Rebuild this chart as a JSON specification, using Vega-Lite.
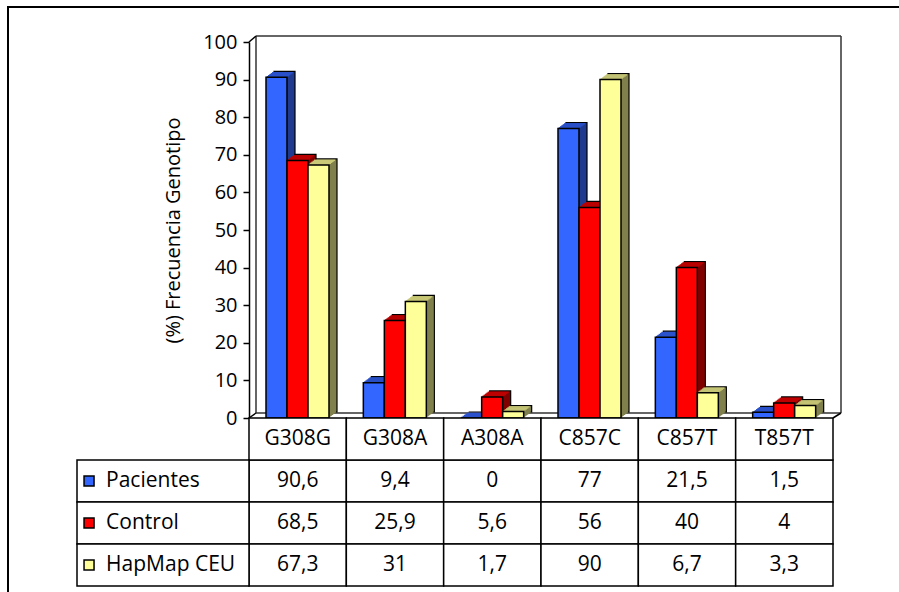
{
  "$schema": "https://vega.github.io/schema/vega-lite/v6.json",
  "width": 900,
  "height": 600,
  "autosize": {"type": "none"},
  "padding": {"left": 8, "top": 7, "right": 0, "bottom": 0},
  "background": "white",
  "config": {
    "font": "Open Sans",
    "view": {"stroke": "black", "strokeWidth": 2},
    "locale": {"number": {"decimal": ",", "thousands": ".", "grouping": [3], "currency": ["", " €"]}}
  },
  "datasets": {
    "d": [
      {"genotype": "G308G", "series": "Pacientes", "value": 90.6},
      {"genotype": "G308G", "series": "Control", "value": 68.5},
      {"genotype": "G308G", "series": "HapMap CEU", "value": 67.3},
      {"genotype": "G308A", "series": "Pacientes", "value": 9.4},
      {"genotype": "G308A", "series": "Control", "value": 25.9},
      {"genotype": "G308A", "series": "HapMap CEU", "value": 31},
      {"genotype": "A308A", "series": "Pacientes", "value": 0},
      {"genotype": "A308A", "series": "Control", "value": 5.6},
      {"genotype": "A308A", "series": "HapMap CEU", "value": 1.7},
      {"genotype": "C857C", "series": "Pacientes", "value": 77},
      {"genotype": "C857C", "series": "Control", "value": 56},
      {"genotype": "C857C", "series": "HapMap CEU", "value": 90},
      {"genotype": "C857T", "series": "Pacientes", "value": 21.5},
      {"genotype": "C857T", "series": "Control", "value": 40},
      {"genotype": "C857T", "series": "HapMap CEU", "value": 6.7},
      {"genotype": "T857T", "series": "Pacientes", "value": 1.5},
      {"genotype": "T857T", "series": "Control", "value": 4},
      {"genotype": "T857T", "series": "HapMap CEU", "value": 3.3}
    ]
  },
  "resolve": {"scale": {"x": "independent", "y": "independent"}, "axis": {"x": "independent", "y": "independent"}},
  "layer": [
    {
      "data": {"name": "d"},
      "mark": {"type": "point", "opacity": 0},
      "encoding": {
        "y": {"field": "value", "type": "quantitative",
              "scale": {"domain": [0, 100], "range": [411, 35], "nice": false, "zero": true},
              "axis": {"title": "(%) Frecuencia Genotipo", "orient": "left", "values": [0,10,20,30,40,50,60,70,80,90,100], "offset": -241,
                       "grid": false, "domainColor": "black", "domainWidth": 1.5, "tickColor": "black", "tickSize": 6, "tickWidth": 1.5,
                       "labelFont": "Open Sans", "labelFontSize": 20, "labelColor": "black", "labelPadding": 6,
                       "titleFont": "Open Sans", "titleFontSize": 20, "titleFontWeight": "normal", "titleColor": "black", "titlePadding": 19}}
      }
    },
    {
      "data": {"name": "d"},
      "encoding": {
        "x": {"field": "genotype", "type": "nominal", "sort": ["G308G","G308A","A308A","C857C","C857T","T857T"],
              "scale": {"domain": ["G308G","G308A","A308A","C857C","C857T","T857T"], "range": [241, 825], "paddingInner": 0, "paddingOuter": 0}, "axis": null},
        "y": {"field": "value", "type": "quantitative",
              "scale": {"domain": [0, 100], "range": [411, 35], "nice": false, "zero": true}, "axis": null}
      },
      "resolve": {"scale": {"xOffset": "independent"}},
      "layer": [
        {"transform": [{"filter": "datum.genotype === 'G308G' && datum.series === 'Pacientes'"}],
         "mark": {"type": "rule", "color": "#333333", "strokeWidth": 1.5, "xOffset": 7, "x2Offset": 8, "yOffset": -6},
         "encoding": {"x": {"datum": "G308G", "type": "nominal", "bandPosition": 0, "axis": null}, "x2": {"datum": "T857T", "bandPosition": 1}, "y": {"datum": 100, "type": "quantitative", "axis": null}}},
        {"transform": [{"filter": "datum.genotype === 'G308G' && datum.series === 'Pacientes'"}],
         "mark": {"type": "rule", "color": "#333333", "strokeWidth": 1.5, "xOffset": 7, "x2Offset": 8, "yOffset": -5},
         "encoding": {"x": {"datum": "G308G", "type": "nominal", "bandPosition": 0, "axis": null}, "x2": {"datum": "T857T", "bandPosition": 1}, "y": {"datum": 0, "type": "quantitative", "axis": null}}},
        {"transform": [{"filter": "datum.genotype === 'G308G' && datum.series === 'Pacientes'"}],
         "mark": {"type": "rule", "color": "#333333", "strokeWidth": 1.5, "xOffset": 7, "yOffset": -6, "y2Offset": -5},
         "encoding": {"x": {"datum": "G308G", "type": "nominal", "bandPosition": 0, "axis": null}, "y": {"datum": 100, "type": "quantitative", "axis": null}, "y2": {"datum": 0}}},
        {"transform": [{"filter": "datum.genotype === 'G308G' && datum.series === 'Pacientes'"}],
         "mark": {"type": "rule", "color": "#333333", "strokeWidth": 1.5, "xOffset": 8, "yOffset": -6, "y2Offset": -5},
         "encoding": {"x": {"datum": "T857T", "type": "nominal", "bandPosition": 1, "axis": null}, "y": {"datum": 100, "type": "quantitative", "axis": null}, "y2": {"datum": 0}}},
        {"transform": [{"filter": "datum.genotype === 'G308G' && datum.series === 'Pacientes'"}],
         "mark": {"type": "rule", "color": "black", "strokeWidth": 1.5, "x2Offset": 7, "y2Offset": -6},
         "encoding": {"x": {"datum": "G308G", "type": "nominal", "bandPosition": 0, "axis": null}, "x2": {"datum": "G308G", "bandPosition": 0}, "y": {"datum": 100, "type": "quantitative", "axis": null}, "y2": {"datum": 100}}},
        {"transform": [{"filter": "datum.genotype === 'G308G' && datum.series === 'Pacientes'"}],
         "mark": {"type": "rule", "color": "black", "strokeWidth": 1.5, "x2Offset": 7, "y2Offset": -5},
         "encoding": {"x": {"datum": "G308G", "type": "nominal", "bandPosition": 0, "axis": null}, "x2": {"datum": "G308G", "bandPosition": 0}, "y": {"datum": 0, "type": "quantitative", "axis": null}, "y2": {"datum": 0}}},
        {"transform": [{"filter": "datum.genotype === 'G308G' && datum.series === 'Pacientes'"}],
         "mark": {"type": "rule", "color": "black", "strokeWidth": 1.5, "x2Offset": 8, "y2Offset": -5},
         "encoding": {"x": {"datum": "T857T", "type": "nominal", "bandPosition": 1, "axis": null}, "x2": {"datum": "T857T", "bandPosition": 1}, "y": {"datum": 0, "type": "quantitative", "axis": null}, "y2": {"datum": 0}}},

        {"mark": {"type": "bar", "yOffset": -6, "y2Offset": -6, "stroke": "black", "strokeWidth": 1.2},
         "encoding": {"xOffset": {"field": "series", "type": "nominal", "sort": ["Pacientes","Control","HapMap CEU"], "scale": {"domain": ["Pacientes","Control","HapMap CEU"], "range": [25, 88], "paddingInner": 0, "paddingOuter": 0}},
                      "color": {"condition": [{"test": "datum.series === 'Pacientes'", "value": "#1f3a8f"}, {"test": "datum.series === 'Control'", "value": "#800000"}], "value": "#80804d"}}},
        {"mark": {"type": "bar", "yOffset": -5.25, "y2Offset": -5.25},
         "encoding": {"xOffset": {"field": "series", "type": "nominal", "sort": ["Pacientes","Control","HapMap CEU"], "scale": {"domain": ["Pacientes","Control","HapMap CEU"], "range": [24, 87], "paddingInner": 0, "paddingOuter": 0}},
                      "color": {"condition": [{"test": "datum.series === 'Pacientes'", "value": "#1f3a8f"}, {"test": "datum.series === 'Control'", "value": "#800000"}], "value": "#80804d"}}},
        {"mark": {"type": "bar", "yOffset": -4.5, "y2Offset": -4.5},
         "encoding": {"xOffset": {"field": "series", "type": "nominal", "sort": ["Pacientes","Control","HapMap CEU"], "scale": {"domain": ["Pacientes","Control","HapMap CEU"], "range": [23, 86], "paddingInner": 0, "paddingOuter": 0}},
                      "color": {"condition": [{"test": "datum.series === 'Pacientes'", "value": "#1f3a8f"}, {"test": "datum.series === 'Control'", "value": "#800000"}], "value": "#80804d"}}},
        {"mark": {"type": "bar", "yOffset": -3.75, "y2Offset": -3.75},
         "encoding": {"xOffset": {"field": "series", "type": "nominal", "sort": ["Pacientes","Control","HapMap CEU"], "scale": {"domain": ["Pacientes","Control","HapMap CEU"], "range": [22, 85], "paddingInner": 0, "paddingOuter": 0}},
                      "color": {"condition": [{"test": "datum.series === 'Pacientes'", "value": "#1f3a8f"}, {"test": "datum.series === 'Control'", "value": "#800000"}], "value": "#80804d"}}},
        {"mark": {"type": "bar", "yOffset": -3, "y2Offset": -3},
         "encoding": {"xOffset": {"field": "series", "type": "nominal", "sort": ["Pacientes","Control","HapMap CEU"], "scale": {"domain": ["Pacientes","Control","HapMap CEU"], "range": [21, 84], "paddingInner": 0, "paddingOuter": 0}},
                      "color": {"condition": [{"test": "datum.series === 'Pacientes'", "value": "#1f3a8f"}, {"test": "datum.series === 'Control'", "value": "#800000"}], "value": "#80804d"}}},
        {"mark": {"type": "bar", "yOffset": -2.25, "y2Offset": -2.25},
         "encoding": {"xOffset": {"field": "series", "type": "nominal", "sort": ["Pacientes","Control","HapMap CEU"], "scale": {"domain": ["Pacientes","Control","HapMap CEU"], "range": [20, 83], "paddingInner": 0, "paddingOuter": 0}},
                      "color": {"condition": [{"test": "datum.series === 'Pacientes'", "value": "#1f3a8f"}, {"test": "datum.series === 'Control'", "value": "#800000"}], "value": "#80804d"}}},
        {"mark": {"type": "bar", "yOffset": -1.5, "y2Offset": -1.5},
         "encoding": {"xOffset": {"field": "series", "type": "nominal", "sort": ["Pacientes","Control","HapMap CEU"], "scale": {"domain": ["Pacientes","Control","HapMap CEU"], "range": [19, 82], "paddingInner": 0, "paddingOuter": 0}},
                      "color": {"condition": [{"test": "datum.series === 'Pacientes'", "value": "#1f3a8f"}, {"test": "datum.series === 'Control'", "value": "#800000"}], "value": "#80804d"}}},
        {"mark": {"type": "bar", "yOffset": -0.75, "y2Offset": -0.75},
         "encoding": {"xOffset": {"field": "series", "type": "nominal", "sort": ["Pacientes","Control","HapMap CEU"], "scale": {"domain": ["Pacientes","Control","HapMap CEU"], "range": [18, 81], "paddingInner": 0, "paddingOuter": 0}},
                      "color": {"condition": [{"test": "datum.series === 'Pacientes'", "value": "#1f3a8f"}, {"test": "datum.series === 'Control'", "value": "#800000"}], "value": "#80804d"}}},

        {"mark": {"type": "bar", "yOffset": -1.3, "y2Offset": 0},
         "encoding": {"y2": {"field": "value"}, "xOffset": {"field": "series", "type": "nominal", "sort": ["Pacientes","Control","HapMap CEU"], "scale": {"domain": ["Pacientes","Control","HapMap CEU"], "range": [17.67, 80.67], "paddingInner": 0, "paddingOuter": 0}},
                      "color": {"condition": [{"test": "datum.series === 'Pacientes'", "value": "#2b52cc"}, {"test": "datum.series === 'Control'", "value": "#c00000"}], "value": "#cccc7a"}}},
        {"mark": {"type": "bar", "yOffset": -2.3, "y2Offset": -1},
         "encoding": {"y2": {"field": "value"}, "xOffset": {"field": "series", "type": "nominal", "sort": ["Pacientes","Control","HapMap CEU"], "scale": {"domain": ["Pacientes","Control","HapMap CEU"], "range": [19, 82], "paddingInner": 0, "paddingOuter": 0}},
                      "color": {"condition": [{"test": "datum.series === 'Pacientes'", "value": "#2b52cc"}, {"test": "datum.series === 'Control'", "value": "#c00000"}], "value": "#cccc7a"}}},
        {"mark": {"type": "bar", "yOffset": -3.3, "y2Offset": -2},
         "encoding": {"y2": {"field": "value"}, "xOffset": {"field": "series", "type": "nominal", "sort": ["Pacientes","Control","HapMap CEU"], "scale": {"domain": ["Pacientes","Control","HapMap CEU"], "range": [20.33, 83.33], "paddingInner": 0, "paddingOuter": 0}},
                      "color": {"condition": [{"test": "datum.series === 'Pacientes'", "value": "#2b52cc"}, {"test": "datum.series === 'Control'", "value": "#c00000"}], "value": "#cccc7a"}}},
        {"mark": {"type": "bar", "yOffset": -4.3, "y2Offset": -3},
         "encoding": {"y2": {"field": "value"}, "xOffset": {"field": "series", "type": "nominal", "sort": ["Pacientes","Control","HapMap CEU"], "scale": {"domain": ["Pacientes","Control","HapMap CEU"], "range": [21.67, 84.67], "paddingInner": 0, "paddingOuter": 0}},
                      "color": {"condition": [{"test": "datum.series === 'Pacientes'", "value": "#2b52cc"}, {"test": "datum.series === 'Control'", "value": "#c00000"}], "value": "#cccc7a"}}},
        {"mark": {"type": "bar", "yOffset": -5.3, "y2Offset": -4},
         "encoding": {"y2": {"field": "value"}, "xOffset": {"field": "series", "type": "nominal", "sort": ["Pacientes","Control","HapMap CEU"], "scale": {"domain": ["Pacientes","Control","HapMap CEU"], "range": [23, 86], "paddingInner": 0, "paddingOuter": 0}},
                      "color": {"condition": [{"test": "datum.series === 'Pacientes'", "value": "#2b52cc"}, {"test": "datum.series === 'Control'", "value": "#c00000"}], "value": "#cccc7a"}}},

        {"mark": {"type": "bar", "stroke": "black", "strokeWidth": 1.5},
         "encoding": {"xOffset": {"field": "series", "type": "nominal", "sort": ["Pacientes","Control","HapMap CEU"], "scale": {"domain": ["Pacientes","Control","HapMap CEU"], "range": [17, 80], "paddingInner": 0, "paddingOuter": 0}},
                      "color": {"field": "series", "type": "nominal", "scale": {"domain": ["Pacientes","Control","HapMap CEU"], "range": ["#3366ff", "#ff0000", "#ffff99"]}, "legend": null}}}
      ]
    },
    {
      "data": {"name": "d"},
      "encoding": {
        "x": {"field": "genotype", "type": "nominal", "sort": ["G308G","G308A","A308A","C857C","C857T","T857T"],
              "scale": {"domain": ["G308G","G308A","A308A","C857C","C857T","T857T"], "range": [241, 825], "paddingInner": 0, "paddingOuter": 0}, "axis": null},
        "y": {"field": "series", "type": "nominal", "scale": {"domain": [" ", "Pacientes", "Control", "HapMap CEU"], "range": [411, 579], "paddingInner": 0, "paddingOuter": 0}, "axis": null}
      },
      "layer": [
        {"mark": {"type": "rect", "fill": "white", "stroke": "black", "strokeWidth": 1.5}},
        {"transform": [{"filter": "datum.series === 'Pacientes'"}],
         "mark": {"type": "rect", "fill": "white", "stroke": "black", "strokeWidth": 1.5},
         "encoding": {"y": {"datum": " ", "type": "nominal", "axis": null}}},
        {"mark": {"type": "text", "fontSize": 21, "font": "Open Sans", "color": "black"},
         "encoding": {"text": {"field": "value", "type": "quantitative", "format": "~g"}}},
        {"transform": [{"filter": "datum.series === 'Pacientes'"}],
         "mark": {"type": "text", "fontSize": 21, "font": "Open Sans", "color": "black"},
         "encoding": {"y": {"datum": " ", "type": "nominal", "axis": null}, "text": {"field": "genotype", "type": "nominal"}}}
      ]
    },
    {
      "data": {"name": "d"},
      "transform": [{"filter": "datum.genotype === 'G308G'"}],
      "encoding": {
        "x": {"datum": "L", "type": "nominal", "scale": {"domain": ["L"], "range": [69, 241], "paddingInner": 0, "paddingOuter": 0}, "axis": null},
        "y": {"field": "series", "type": "nominal", "scale": {"domain": [" ", "Pacientes", "Control", "HapMap CEU"], "range": [411, 579], "paddingInner": 0, "paddingOuter": 0}, "axis": null}
      },
      "layer": [
        {"mark": {"type": "rect", "fill": "white", "stroke": "black", "strokeWidth": 1.5}},
        {"mark": {"type": "point", "shape": "square", "size": 100, "filled": true, "opacity": 1, "stroke": "black", "strokeWidth": 1.5},
         "encoding": {"x": {"datum": "L", "type": "nominal", "bandPosition": 0.07, "axis": null},
                      "color": {"field": "series", "type": "nominal", "scale": {"domain": ["Pacientes","Control","HapMap CEU"], "range": ["#3366ff", "#ff0000", "#ffff99"]}, "legend": null}}},
        {"mark": {"type": "text", "align": "left", "fontSize": 21, "font": "Open Sans", "color": "black"},
         "encoding": {"x": {"datum": "L", "type": "nominal", "bandPosition": 0.169, "axis": null}, "text": {"field": "series", "type": "nominal"}}}
      ]
    }
  ]
}
